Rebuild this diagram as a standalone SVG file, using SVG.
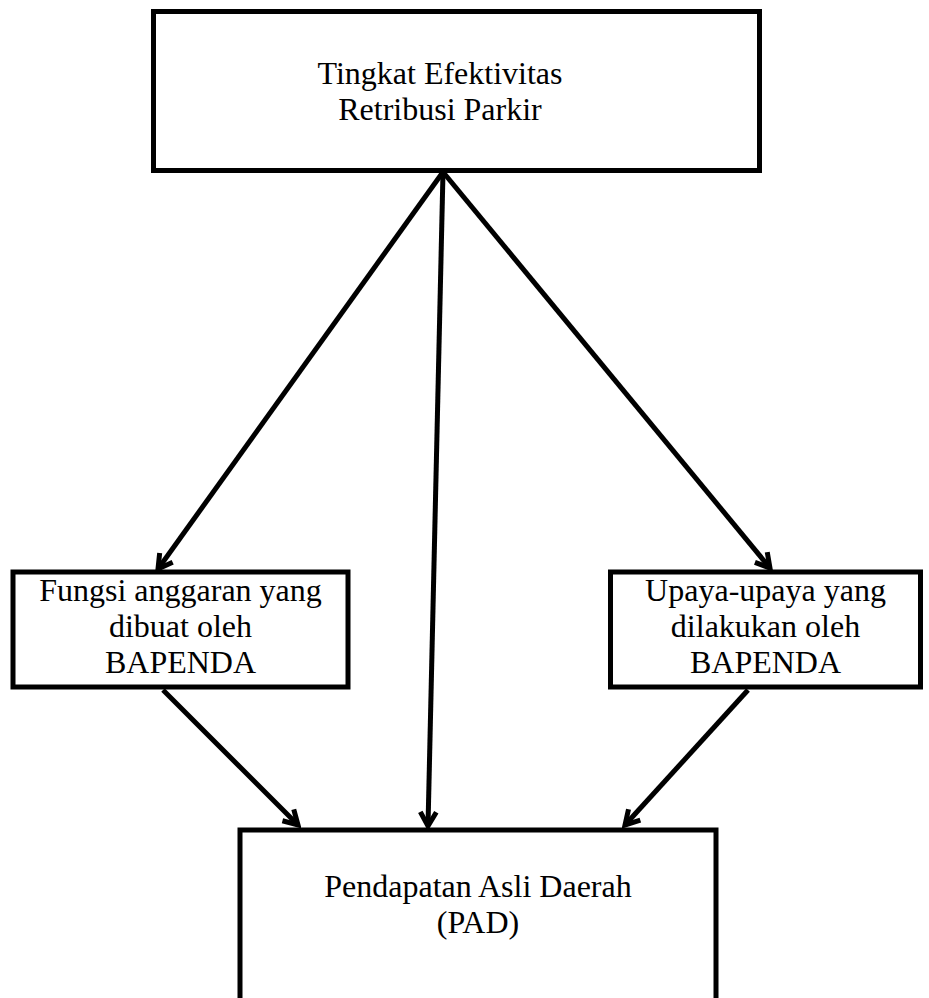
<svg xmlns="http://www.w3.org/2000/svg" width="929" height="998" viewBox="0 0 929 998">
<defs>
<style>
.box{fill:#fff;stroke:#000;stroke-width:5;stroke-linejoin:miter}
.t{font-family:"Liberation Serif","Times New Roman",serif;font-size:32px;fill:#000;text-anchor:middle}
.c{stroke:#000;stroke-width:5;fill:none;marker-end:url(#ah)}
</style>
<marker id="ah" markerUnits="userSpaceOnUse" markerWidth="24" markerHeight="24" viewBox="0 0 24 24" refX="20" refY="12" orient="auto">
<path d="M6,4 L20,12 L6,20" fill="none" stroke="#000" stroke-width="5" stroke-linejoin="miter"/>
</marker>
</defs>
<rect width="929" height="998" fill="#fff"/>
<g id="connectors">
<line class="c" x1="443" y1="172" x2="158" y2="569"/>
<line class="c" x1="443" y1="172" x2="428" y2="826"/>
<line class="c" x1="443" y1="172" x2="770" y2="568"/>
<line class="c" x1="163" y1="690" x2="298" y2="825"/>
<line class="c" x1="748" y1="690" x2="625" y2="825"/>
</g>
<g id="top">
<rect class="box" x="153.5" y="11.5" width="606" height="159"/>
<text class="t" x="440" y="84">Tingkat Efektivitas</text>
<text class="t" x="440" y="120">Retribusi Parkir</text>
</g>
<g id="left">
<rect class="box" x="13" y="572" width="335" height="115"/>
<text class="t" x="180.5" y="601">Fungsi anggaran yang</text>
<text class="t" x="180.5" y="637">dibuat oleh</text>
<text class="t" x="180.5" y="673">BAPENDA</text>
</g>
<g id="right">
<rect class="box" x="610.5" y="572" width="310" height="115"/>
<text class="t" x="765.5" y="601">Upaya-upaya yang</text>
<text class="t" x="765.5" y="637">dilakukan oleh</text>
<text class="t" x="765.5" y="673">BAPENDA</text>
</g>
<g id="bottom">
<rect class="box" x="240" y="830" width="476" height="200"/>
<text class="t" x="478" y="897">Pendapatan Asli Daerah</text>
<text class="t" x="478" y="933">(PAD)</text>
</g>
</svg>
